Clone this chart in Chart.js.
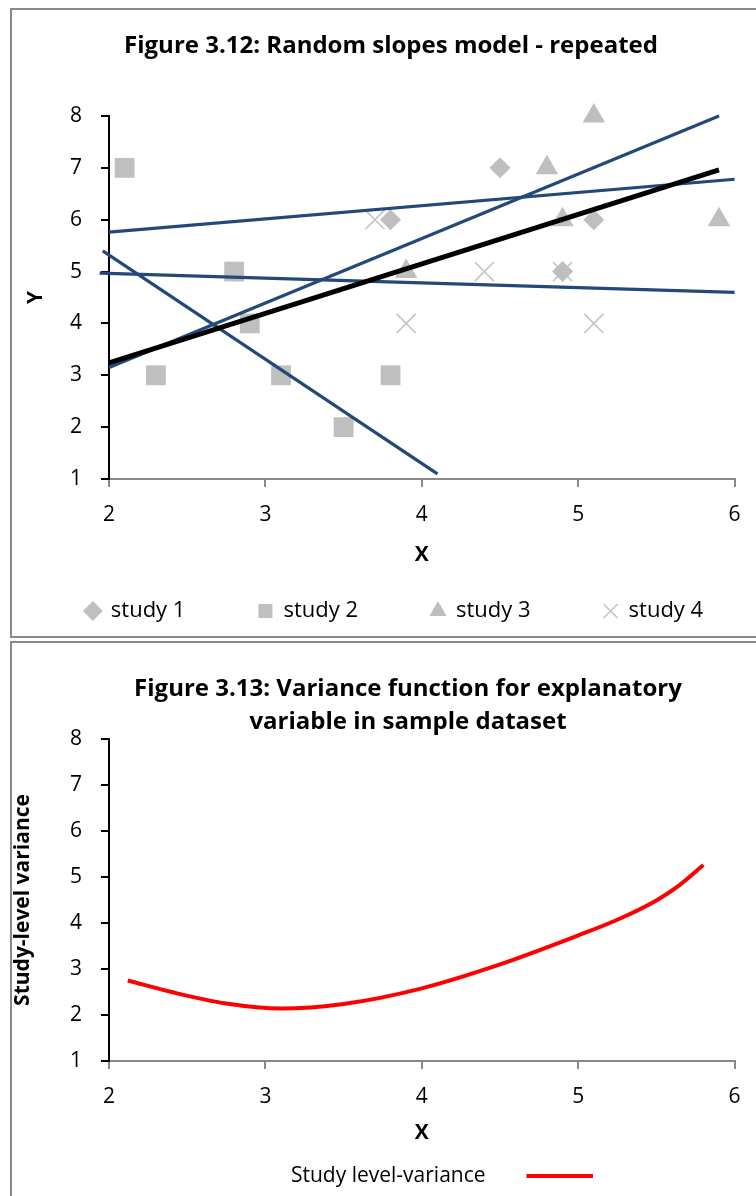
<!DOCTYPE html>
<html>
<head>
<meta charset="utf-8">
<script src="https://cdn.jsdelivr.net/npm/chart.js@4.4.1/dist/chart.umd.min.js"></script>
<style>
html,body{margin:0;padding:0;background:#fff;overflow:hidden;width:756px;height:1196px;position:relative;}
.frame{position:absolute;border:2px solid #8a8a8a;box-sizing:border-box;}
#f1{left:10px;top:8px;width:800px;height:630px;}
#f2{left:10px;top:641px;width:800px;height:600px;}
#c1{position:absolute;left:0;top:0;}
#c2{position:absolute;left:0;top:640px;}
</style>
</head>
<body>
<div class="frame" id="f1"></div>
<div class="frame" id="f2"></div>
<canvas id="c1" width="756" height="636"></canvas>
<canvas id="c2" width="756" height="556"></canvas>
<script>
// ---------- Figure 3.12 data ----------
const study1X = [3.8, 4.5, 4.9, 5.1];
const study1Y = [6, 7, 5, 6];
const study2X = [2.1, 2.3, 2.8, 2.9, 3.1, 3.5, 3.8];
const study2Y = [7, 3, 5, 4, 3, 2, 3];
const study3X = [3.9, 4.8, 4.9, 5.1, 5.9];
const study3Y = [5, 7, 6, 8, 6];
const study4X = [3.7, 3.9, 4.4, 4.9, 5.1];
const study4Y = [6, 4, 5, 5, 4];
const overallLineX = [2, 5.9];
const overallLineY = [3.24, 6.96];
const slopeLine1X = [2, 5.9];
const slopeLine1Y = [3.15, 8.0];
const slopeLine2X = [2, 6];
const slopeLine2Y = [5.76, 6.78];
const slopeLine3X = [1.94, 6];
const slopeLine3Y = [4.97, 4.6];
const slopeLine4X = [1.96, 4.1];
const slopeLine4Y = [5.4, 1.1];
const studyLabels = ['study 1', 'study 2', 'study 3', 'study 4'];
const xTicks1 = [2, 3, 4, 5, 6];
const yTicks1 = [1, 2, 3, 4, 5, 6, 7, 8];

// ---------- Figure 3.13 data ----------
const varianceX = [2.12, 2.4, 2.75, 3.1, 3.5, 4.0, 4.5, 5.0, 5.25, 5.5, 5.65, 5.8];
const varianceY = [2.75, 2.50, 2.25, 2.14, 2.24, 2.58, 3.10, 3.73, 4.07, 4.49, 4.83, 5.26];
const varianceLabel = 'Study level-variance';

function pts(xs, ys) { return xs.map((x, i) => ({ x: x, y: ys[i] })); }

Chart.defaults.font.family = "'Open Sans', 'Noto Sans', sans-serif";
Chart.defaults.color = '#000';

const shiftPlugin = {
  id: 'shift',
  afterLayout(chart, args, opts) {
    const t = chart.titleBlock;
    if (t && opts.titleDx) { t.left += opts.titleDx; t.right += opts.titleDx; }
    const L = chart.legend;
    if (L) {
      if (opts.legendDx != null) { L.left += opts.legendDx - 30; L.right += opts.legendDx + 30; L.width = L.right - L.left; }
      if (opts.legendTop != null) { L.top = opts.legendTop; L.height = L.bottom - L.top; }
    }
  }
};

const MARK = '#bfbfbf';
const BLUE = '#23487a';

function xAxis(h, titlePadBottom) {
  return {
    type: 'linear', min: 2, max: 6,
    afterBuildTicks: s => { s.ticks = xTicks1.map(v => ({ value: v })); },
    ticks: { font: { size: 21 }, color: '#000', padding: 15.4 },
    grid: { drawOnChartArea: false, drawTicks: true, tickLength: 8, color: '#898989', lineWidth: 2 },
    border: { color: '#898989', width: 2 },
    title: { display: true, text: 'X', font: { size: 21, weight: 'bold', lineHeight: 1.2 }, color: '#000', padding: { top: 0, bottom: titlePadBottom } },
    afterFit: s => { s.height = h; }
  };
}
function yAxis(title, titlePadTop) {
  return {
    type: 'linear', min: 1, max: 8,
    afterBuildTicks: s => { s.ticks = yTicks1.map(v => ({ value: v })); },
    ticks: { font: { size: 21 }, color: '#000', padding: 19 },
    grid: { drawOnChartArea: false, drawTicks: true, tickLength: 8, color: '#000', lineWidth: 2 },
    border: { color: '#000', width: 2 },
    title: { display: true, text: title, font: { size: 21, weight: 'bold', lineHeight: 1.2 }, color: '#000', padding: { top: titlePadTop, bottom: 0 } },
    afterFit: s => { s.width = 169; }
  };
}

function lineDs(label, xs, ys, color, width) {
  return { label: label, data: pts(xs, ys), showLine: true, borderColor: color, backgroundColor: color,
           borderWidth: width, pointRadius: 0, pointHoverRadius: 0, order: 0, clip: false };
}

new Chart(document.getElementById('c1'), {
  type: 'scatter',
  data: {
    datasets: [
      lineDs('overall', overallLineX, overallLineY, '#000', 5),
      lineDs('line a', slopeLine1X, slopeLine1Y, BLUE, 3.2),
      lineDs('line b', slopeLine2X, slopeLine2Y, BLUE, 3.2),
      lineDs('line c', slopeLine3X, slopeLine3Y, BLUE, 3.2),
      lineDs('line d', slopeLine4X, slopeLine4Y, BLUE, 3.2),
      { label: studyLabels[0], data: pts(study1X, study1Y), pointStyle: 'rectRot', pointRadius: 10.5, backgroundColor: MARK, borderColor: MARK, borderWidth: 0, order: 1, clip: false },
      { label: studyLabels[1], data: pts(study2X, study2Y), pointStyle: 'rect', pointRadius: 14, backgroundColor: MARK, borderColor: MARK, borderWidth: 0, order: 1, clip: false },
      { label: studyLabels[2], data: pts(study3X, study3Y), pointStyle: 'triangle', pointRadius: 13, backgroundColor: MARK, borderColor: MARK, borderWidth: 0, order: 1, clip: false },
      { label: studyLabels[3], data: pts(study4X, study4Y), pointStyle: 'crossRot', pointRadius: 13.5, backgroundColor: MARK, borderColor: '#c4c4c4', borderWidth: 1.6, order: 1, clip: false }
    ]
  },
  options: {
    responsive: false, animation: false, events: [],
    layout: { padding: { left: -60, right: 12, top: 0, bottom: 0 } },
    plugins: {
      title: { display: true, text: 'Figure 3.12: Random slopes model - repeated', color: '#000',
               font: { size: 24, weight: 'bold', lineHeight: 1.2 }, padding: { top: 31.6, bottom: 55.6 } },
      legend: { position: 'bottom', maxHeight: 40,
                labels: { usePointStyle: true, boxWidth: 14, boxHeight: 14, padding: 73, font: { size: 22 }, color: '#000',
                          filter: item => studyLabels.includes(item.text) } },
      tooltip: { enabled: false },
      shift: { titleDx: 49, legendDx: 52.5, legendTop: 611 - 73 - 11 }
    },
    scales: { x: xAxis(117, 28.4), y: yAxis('Y', 83.4) }
  },
  plugins: [shiftPlugin]
});

new Chart(document.getElementById('c2'), {
  type: 'scatter',
  data: {
    datasets: [
      { label: varianceLabel, data: pts(varianceX, varianceY), showLine: true, borderColor: '#ff0000', backgroundColor: '#ff0000',
        borderWidth: 4, pointRadius: 0, pointHoverRadius: 0, cubicInterpolationMode: 'monotone' }
    ]
  },
  options: {
    responsive: false, animation: false, events: [],
    layout: { padding: { left: -60, right: 12, top: 0, bottom: 0 } },
    plugins: {
      title: { display: true, text: ['Figure 3.13: Variance function for explanatory', 'variable in sample dataset'], color: '#000',
               font: { size: 24, weight: 'bold', lineHeight: 33 / 24 }, padding: { top: 32.5, bottom: 0.5 } },
      legend: { position: 'bottom', maxHeight: 40, rtl: true, textDirection: 'ltr',
                labels: { boxWidth: 97, boxHeight: 4, padding: 10, font: { size: 21 }, color: '#000',
                          generateLabels: chart => {
                            const g = chart.ctx.createLinearGradient(0, 0, 756, 0);
                            g.addColorStop(0, 'rgba(255,0,0,0)');
                            g.addColorStop(526 / 756, 'rgba(255,0,0,0)');
                            g.addColorStop(527 / 756, '#ff0000');
                            g.addColorStop(1, '#ff0000');
                            return Chart.defaults.plugins.legend.labels.generateLabels(chart)
                              .map(l => Object.assign({}, l, { lineWidth: 0, fillStyle: g, strokeStyle: g }));
                          } } },
      tooltip: { enabled: false },
      shift: { titleDx: 66, legendDx: 100, legendTop: 536 - 10 - 10.5 }
    },
    scales: { x: xAxis(95, 10.4), y: yAxis('Study-level variance', 70.4) }
  },
  plugins: [shiftPlugin]
});
</script>
</body>
</html>
